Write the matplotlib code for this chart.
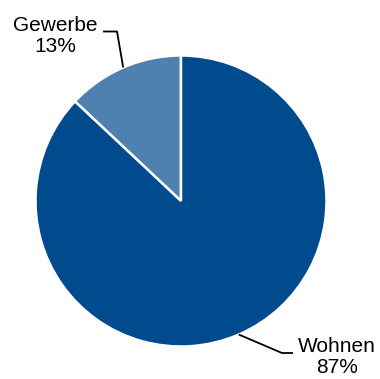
import numpy as np
import matplotlib.pyplot as plt

plt.rcParams["font.family"] = ["Liberation Sans", "DejaVu Sans"]

labels = ["Gewerbe", "Wohnen"]
shares = [13, 87]
colors = ["#4F81B0", "#004B8D"]

W, H = 380, 379
fig = plt.figure(figsize=(W / 100, H / 100), dpi=100)
ax = fig.add_axes([0, 0, 1, 1])

cx, cy, r = 181, H - 201, 145.5
wedges, _ = ax.pie(
    shares,
    colors=colors,
    startangle=90,
    counterclock=True,
    center=(cx, cy),
    radius=r,
    wedgeprops=dict(edgecolor="white", linewidth=1.8),
)
ax.set_xlim(0, W)
ax.set_ylim(0, H)
ax.set_aspect("equal")
ax.axis("off")

# label layout: (elbow, line end, text pos, alignment)
layout = {
    "Gewerbe": ((117, H - 31.5), (103, H - 31.5), (55, H - 36), "center"),
    "Wohnen": ((282, H - 353), (293, H - 353), (337, H - 357), "center"),
}

for w, lab, val in zip(wedges, labels, shares):
    mid = np.deg2rad((w.theta1 + w.theta2) / 2)
    ex, ey = cx + r * np.cos(mid), cy + r * np.sin(mid)
    elbow, end, tpos, ha = layout[lab]
    ax.plot([ex, elbow[0], end[0]], [ey, elbow[1], end[1]],
            color="black", linewidth=1.3, solid_capstyle="butt")
    ax.text(tpos[0], tpos[1], f"{lab}\n{val}%", ha=ha, va="center",
            multialignment="center", fontsize=15, linespacing=1.1)

fig.savefig("out.png", dpi=100)
